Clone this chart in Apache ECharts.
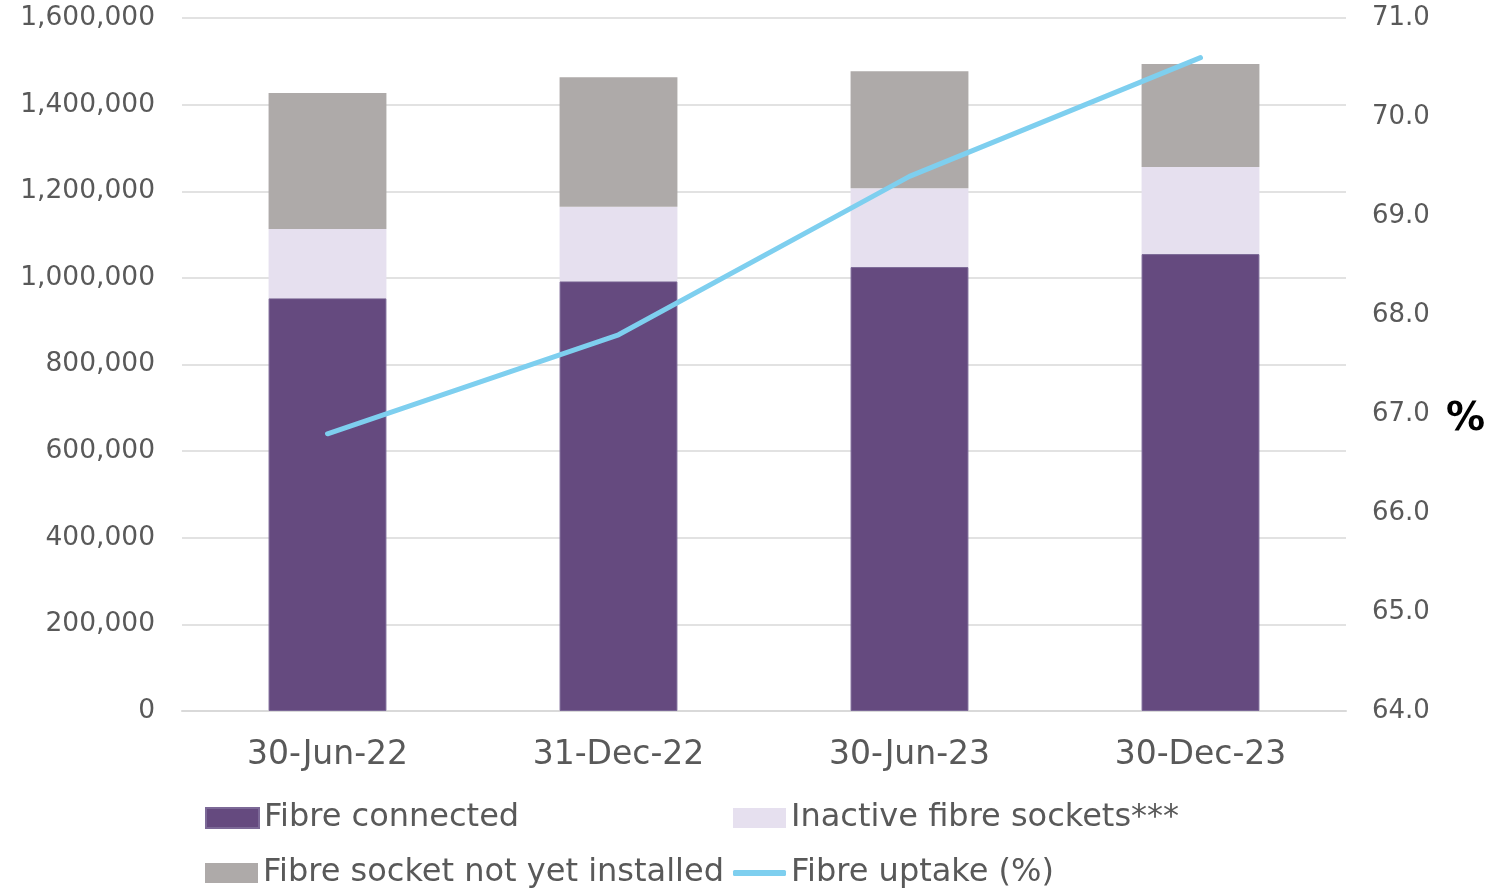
<!DOCTYPE html>
<html>
<head>
<meta charset="utf-8">
<script src="https://cdn.jsdelivr.net/npm/echarts@6/dist/echarts.min.js"></script>
<style>
  html, body { margin: 0; padding: 0; background: #fff; }
  #chart { width: 1499px; height: 889px; }
</style>
</head>
<body>
<div id="chart"></div>
<script>
const categories = ['30-Jun-22', '31-Dec-22', '30-Jun-23', '30-Dec-23'];
const fibreConnected = [953000, 992000, 1025000, 1055000];
const inactiveSockets = [160000, 172000, 182000, 201000];
const notYetInstalled = [314000, 299000, 270000, 238000];
const fibreUptake = [66.8, 67.8, 69.4, 70.6];
const leftAxisRange = [0, 1600000, 200000];
const rightAxisRange = [64, 71, 1];

const FONT = 'DejaVu Sans';
const LABEL = '#595959';

const chart = echarts.init(document.getElementById('chart'));

function legendAt(name, left, top, opts) {
  return Object.assign({
    data: [name],
    left: left,
    top: top,
    padding: 0,
    orient: 'horizontal',
    itemWidth: 53,
    itemHeight: 20,
    icon: 'rect',
    selectedMode: false,
    textStyle: { fontFamily: FONT, fontSize: 32, color: LABEL, lineHeight: 36 }
  }, opts || {});
}

chart.setOption({
  animation: false,
  backgroundColor: '#ffffff',
  grid: { left: 182, right: 153, top: 18, bottom: 178, containLabel: false },
  legend: [
    legendAt('Fibre connected', 205, 800),
    legendAt('Inactive fibre sockets***', 733, 800),
    legendAt('Fibre socket not yet installed', 205, 855),
    legendAt('Fibre uptake (%)', 733, 855, { itemHeight: 6, icon: 'roundRect' })
  ],
  graphic: [{
    type: 'text',
    x: 1446,
    y: 420,
    style: { text: '%', fontFamily: FONT, fontWeight: 'bold', fontSize: 39, fill: '#000000', verticalAlign: 'middle', align: 'left' }
  }],
  xAxis: {
    type: 'category',
    data: categories,
    axisLine: { lineStyle: { color: '#D9D9D9', width: 2 } },
    axisTick: { show: false },
    axisLabel: { fontFamily: FONT, fontSize: 33, color: LABEL, margin: 28 }
  },
  yAxis: [{
    type: 'value',
    min: leftAxisRange[0],
    max: leftAxisRange[1],
    interval: leftAxisRange[2],
    axisLine: { show: false },
    axisTick: { show: false },
    splitLine: { lineStyle: { color: '#D9D9D9', width: 1.5 } },
    axisLabel: {
      fontFamily: FONT, fontSize: 26.5, color: LABEL, margin: 27,
      padding: [4, 0, 0, 0],
      formatter: v => v.toLocaleString('en-US')
    }
  }, {
    type: 'value',
    position: 'right',
    min: rightAxisRange[0],
    max: rightAxisRange[1],
    interval: rightAxisRange[2],
    axisLine: { show: false },
    axisTick: { show: false },
    splitLine: { show: false },
    axisLabel: {
      fontFamily: FONT, fontSize: 26, color: LABEL, margin: 26,
      padding: [4, 0, 0, 0],
      formatter: v => v.toFixed(1)
    }
  }],
  series: [{
    name: 'Fibre connected',
    type: 'bar',
    stack: 'total',
    barWidth: '40.5%',
    data: fibreConnected,
    itemStyle: { color: '#654A7F', borderColor: '#7C6997', borderWidth: 1 }
  }, {
    name: 'Inactive fibre sockets***',
    type: 'bar',
    stack: 'total',
    data: inactiveSockets,
    itemStyle: { color: '#E6E0EF' }
  }, {
    name: 'Fibre socket not yet installed',
    type: 'bar',
    stack: 'total',
    data: notYetInstalled,
    itemStyle: { color: '#AEAAA9' }
  }, {
    name: 'Fibre uptake (%)',
    type: 'line',
    yAxisIndex: 1,
    data: fibreUptake,
    symbol: 'none',
    showSymbol: false,
    lineStyle: { color: '#7ECFEF', width: 5, cap: 'round', join: 'round' },
    itemStyle: { color: '#7ECFEF' }
  }]
});
</script>
</body>
</html>
